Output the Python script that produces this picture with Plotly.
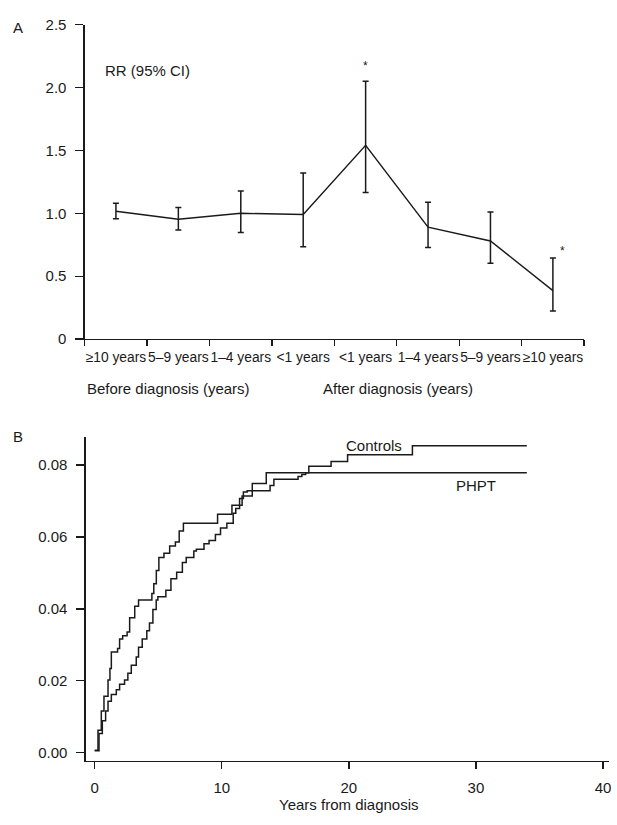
import plotly.graph_objects as go

# ---------------- Panel A data ----------------
cat_labels = ["≥10 years", "5–9 years", "1–4 years", "<1 years",
              "<1 years", "1–4 years", "5–9 years", "≥10 years"]
cat_pos = [0.5, 1.5, 2.5, 3.5, 4.5, 5.5, 6.5, 7.5]
rr = [1.016, 0.953, 1.0, 0.99, 1.54, 0.89, 0.78, 0.385]
ci_low = [0.956, 0.868, 0.848, 0.735, 1.166, 0.728, 0.602, 0.223]
ci_high = [1.08, 1.047, 1.178, 1.32, 2.05, 1.088, 1.01, 0.645]
a_yticks = [0, 0.5, 1.0, 1.5, 2.0, 2.5]
a_yticktext = ["0", "0.5", "1.0", "1.5", "2.0", "2.5"]

# ---------------- Panel B data ----------------
ctrl_t = [0, 0.26, 0.52, 0.73, 1.05, 1.2, 1.31, 1.8, 1.96, 2.2, 2.55, 2.75,
          3.15, 3.45, 4.5, 4.65, 4.85, 5.05, 5.45, 5.9, 6.35, 6.65, 6.98,
          9.67, 10.8, 11.6, 12.4, 13.5, 16.85, 18.6, 19.9, 25.0, 34.0]
ctrl_v = [0.0007, 0.0062, 0.0116, 0.0157, 0.0202, 0.0234, 0.028, 0.029,
          0.0316, 0.0325, 0.0336, 0.0375, 0.0407, 0.0425, 0.0443, 0.047,
          0.0507, 0.0543, 0.0555, 0.0575, 0.0586, 0.0617, 0.0638, 0.0663,
          0.0688, 0.0714, 0.0749, 0.0779, 0.0797, 0.081, 0.0829, 0.0854,
          0.0854]
phpt_t = [0, 0.34, 0.6, 0.86, 1.05, 1.31, 1.7, 1.96, 2.35, 2.61, 2.88, 3.27,
          3.45, 3.74, 4.1, 4.31, 4.58, 4.84, 4.97, 5.6, 6.0, 6.45, 6.9, 7.2,
          7.8, 8.0, 8.6, 9.0, 9.5, 9.9, 10.4, 10.9, 11.1, 11.4, 11.7, 12.0,
          13.8, 14.1, 16.0, 16.3, 16.6, 34.0]
phpt_v = [0.0005, 0.0053, 0.0089, 0.0116, 0.0143, 0.0162, 0.0175, 0.019,
          0.0202, 0.0221, 0.0243, 0.0266, 0.0293, 0.0316, 0.0339, 0.0361,
          0.0398, 0.0425, 0.0434, 0.0452, 0.0484, 0.0502, 0.0529, 0.0543,
          0.0561, 0.0566, 0.0581, 0.059, 0.0607, 0.0625, 0.0638, 0.0666,
          0.0679, 0.0707, 0.0725, 0.0729, 0.0743, 0.0761, 0.0768, 0.0774,
          0.0779, 0.0779]
b_xticks = [0, 10, 20, 30, 40]
b_yticks = [0.0, 0.02, 0.04, 0.06, 0.08]
b_yticktext = ["0.00", "0.02", "0.04", "0.06", "0.08"]

W, H = 617, 825
FONT = "Liberation Sans, Arial, Helvetica, sans-serif"
INK = "#1a1a1a"


def px_x(p):
    return p / W


def px_y(p):
    return 1 - p / H


fig = go.Figure()

fig.add_trace(go.Scatter(
    x=cat_pos, y=rr, mode="lines",
    line=dict(color=INK, width=1.4),
    error_y=dict(type="data", symmetric=False,
                 array=[h - r for h, r in zip(ci_high, rr)],
                 arrayminus=[r - l for r, l in zip(rr, ci_low)],
                 color=INK, thickness=1.5, width=3),
    xaxis="x", yaxis="y", showlegend=False, hoverinfo="skip"))

fig.add_trace(go.Scatter(
    x=ctrl_t, y=ctrl_v, mode="lines", line_shape="hv",
    line=dict(color=INK, width=1.5), xaxis="x2", yaxis="y2",
    showlegend=False, name="Controls", hoverinfo="skip"))
fig.add_trace(go.Scatter(
    x=phpt_t, y=phpt_v, mode="lines", line_shape="hv",
    line=dict(color=INK, width=1.5), xaxis="x2", yaxis="y2",
    showlegend=False, name="PHPT", hoverinfo="skip"))

axis_common = dict(showgrid=False, zeroline=False, showline=True,
                   linecolor=INK, linewidth=1.3, tickcolor=INK,
                   tickwidth=1.3, tickfont=dict(family=FONT, size=15, color=INK))

fig.update_layout(
    xaxis=dict(axis_common, domain=[px_x(85), px_x(586)], range=[0, 8],
               tickvals=cat_pos, ticktext=cat_labels, ticks="outside",
               ticklen=0, tickangle=0,
               tickfont=dict(family=FONT, size=13.8, color=INK),
               ticklabelstandoff=5,
               minor=dict(tickvals=list(range(9)), ticks="outside", ticklen=6,
                          tickcolor=INK, tickwidth=1.3),
               anchor="y"),
    yaxis=dict(axis_common, domain=[px_y(337), px_y(16)], range=[0, 2.5],
               tickvals=a_yticks, ticktext=a_yticktext, ticks="outside",
               ticklen=8, ticklabelstandoff=6, anchor="x"),
    xaxis2=dict(axis_common, domain=[px_x(86), px_x(611)],
                range=[(86 - 95) / 12.75, (611 - 95) / 12.75],
                tickvals=b_xticks, ticks="outside", ticklen=7,
                ticklabelstandoff=6, anchor="y2"),
    yaxis2=dict(axis_common, domain=[px_y(768), px_y(437)],
                range=[(759.3 - 768) / 3670, (759.3 - 437) / 3670],
                tickvals=b_yticks, ticktext=b_yticktext, ticks="outside",
                ticklen=8, ticklabelstandoff=6, anchor="x2"),
)


def txt(x, y, s, size=15, xanchor="left", xref="paper", yref="paper"):
    fig.add_annotation(x=x, y=y, xref=xref, yref=yref, text=s, showarrow=False,
                       xanchor=xanchor, yanchor="middle",
                       font=dict(family=FONT, size=size, color=INK))


txt(px_x(11), px_y(19), "A")
txt(px_x(103), px_y(63), "RR (95% CI)")
txt(px_x(85), px_y(387), "Before diagnosis (years)")
txt(px_x(322), px_y(387), "After diagnosis (years)")
txt(px_x(11), px_y(437), "B")
txt(px_x(345), px_y(446), "Controls")
txt(px_x(455), px_y(487), "PHPT")
txt(px_x(350), px_y(812), "Years from diagnosis", xanchor="center")
# significance stars
txt(4.5, 2.17, "*", size=12, xanchor="center", xref="x", yref="y")
txt(7.65, 0.70, "*", size=12, xanchor="center", xref="x", yref="y")

fig.update_layout(width=W, height=H, margin=dict(l=0, r=0, t=0, b=0),
                  paper_bgcolor="white", plot_bgcolor="white",
                  font=dict(family=FONT, color=INK), hovermode=False)

fig.write_html(
    "out.html",
    config={"displayModeBar": False, "staticPlot": True},
    post_script="var s=document.createElement('style');"
                "s.textContent='html,body{margin:0;padding:0;width:617px;"
                "height:825px;overflow:hidden;}';"
                "document.head.appendChild(s);")
